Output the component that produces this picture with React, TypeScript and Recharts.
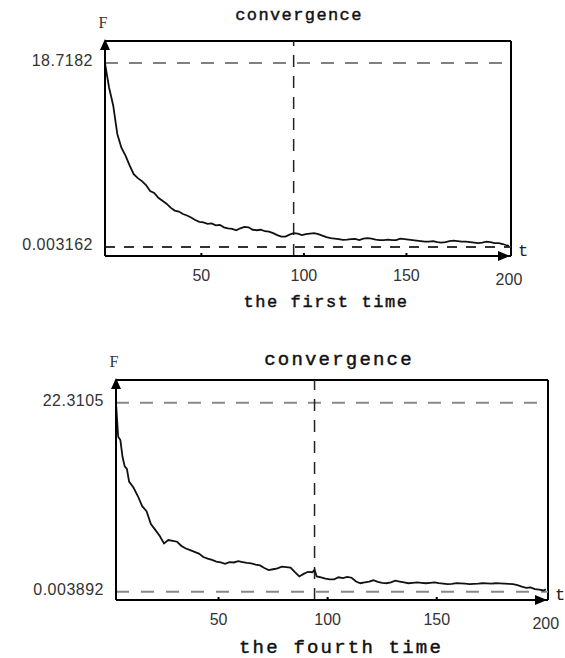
import React from "react";
import { LineChart, Line, XAxis, YAxis, ReferenceLine, ReferenceDot } from "recharts";

// first run: iteration t and fitness F
const tFirst = [3, 5, 7, 9, 11, 13, 15, 17, 19, 21, 23, 25, 27, 29, 31, 33, 35, 37, 39, 41, 43, 45, 47, 49, 51, 53, 55, 57, 59, 61, 63, 65, 67, 69, 71, 73, 75, 77, 79, 81, 83, 85, 87, 89, 91, 93, 95, 97, 99, 101, 103, 105, 107, 109, 111, 113, 115, 117, 119, 121, 123, 125, 127, 129, 131, 133, 135, 137, 139, 141, 143, 145, 147, 149, 151, 153, 155, 157, 159, 161, 163, 165, 167, 169, 171, 173, 175, 177, 179, 181, 183, 185, 187, 189, 191, 193, 195, 197, 199, 200];
const fFirst = [18.7, 16.2, 14.4, 11.5, 10.1, 9.3, 8.3, 7.4, 7.0, 6.7, 6.3, 5.7, 5.5, 5.0, 4.7, 4.4, 4.0, 3.7, 3.6, 3.35, 3.2, 3.0, 2.75, 2.55, 2.5, 2.35, 2.4, 2.2, 2.25, 2.0, 1.9, 1.85, 1.7, 1.9, 2.05, 2.0, 1.75, 1.7, 1.75, 1.6, 1.55, 1.4, 1.2, 1.05, 1.05, 1.25, 1.4, 1.35, 1.2, 1.3, 1.35, 1.4, 1.3, 1.15, 1.0, 0.9, 0.85, 0.8, 0.72, 0.75, 0.8, 0.82, 0.7, 0.85, 0.9, 0.85, 0.75, 0.7, 0.7, 0.75, 0.7, 0.7, 0.85, 0.8, 0.75, 0.7, 0.65, 0.6, 0.55, 0.55, 0.6, 0.5, 0.45, 0.5, 0.6, 0.65, 0.6, 0.55, 0.55, 0.5, 0.45, 0.4, 0.45, 0.55, 0.5, 0.4, 0.4, 0.3, 0.15, 0.1];

// fourth run
const tFourth = [3, 4, 5, 6, 7, 8, 9, 11, 13, 15, 17, 19, 21, 23, 25, 27, 29, 31, 33, 35, 37, 39, 41, 43, 45, 47, 49, 51, 53, 55, 57, 59, 61, 63, 65, 67, 69, 71, 73, 75, 77, 79, 81, 83, 85, 87, 89, 91, 93, 94, 95, 97, 99, 101, 103, 105, 107, 109, 111, 113, 115, 117, 119, 121, 123, 125, 127, 129, 131, 133, 135, 137, 139, 141, 143, 145, 147, 149, 151, 153, 155, 157, 159, 161, 163, 165, 167, 169, 171, 173, 175, 177, 179, 181, 183, 185, 187, 189, 191, 193, 195, 197, 199, 200];
const fFourth = [22.3, 18.3, 17.9, 15.9, 14.8, 14.5, 13.0, 12.3, 11.3, 10.1, 9.5, 8.0, 7.3, 6.6, 5.7, 6.1, 6.0, 5.9, 5.4, 5.1, 4.9, 4.7, 4.5, 4.1, 3.9, 3.75, 3.55, 3.45, 3.3, 3.5, 3.45, 3.6, 3.5, 3.4, 3.35, 3.2, 3.1, 2.8, 2.56, 2.65, 2.75, 2.95, 2.9, 2.85, 2.3, 1.8, 2.1, 2.35, 2.3, 2.6, 1.8, 1.7, 1.55, 1.45, 1.45, 1.7, 1.6, 1.75, 1.65, 1.2, 1.0, 1.1, 1.2, 1.35, 1.15, 1.05, 1.0, 1.1, 1.3, 1.2, 1.1, 1.0, 1.05, 1.1, 1.05, 1.0, 1.05, 1.1, 1.0, 0.95, 0.9, 0.92, 1.0, 0.98, 0.95, 0.9, 0.92, 0.95, 1.0, 0.98, 0.95, 1.0, 0.98, 0.95, 0.92, 0.9, 0.78, 0.6, 0.45, 0.5, 0.3, 0.25, 0.15, 0.3];

const xTicks = [50, 100, 150, 200];
const boundsFirst = [0.003162, 18.7182];
const boundsFourth = [0.003892, 22.3105];

const TICK_FONT = "'Liberation Sans', Arial, sans-serif";
const MONO_FONT = "'Liberation Mono', 'Courier New', monospace";

const XTick = (props: any) => {
  const { x, y, payload } = props;
  const last = payload.value === 200;
  return (
    <g>
      {!last && <line x1={x} x2={x} y1={y - 3} y2={y} stroke="#000" strokeWidth={2} />}
      <text x={x} y={y + (last ? 29 : 25)} textAnchor="middle" fontFamily={TICK_FONT} fontSize={16} fill="#333">
        {payload.value}
      </text>
    </g>
  );
};

const YTick = (props: any) => {
  const { x, y, payload } = props;
  return (
    <text x={x - 12} y={y + 3} textAnchor="end" fontFamily={TICK_FONT} fontSize={16} fill="#333" letterSpacing={0.5}>
      {String(payload.value)}
    </text>
  );
};

const UpArrow = (props: any) => {
  const { cx, cy } = props;
  return (
    <g>
      <path d={`M${cx},${cy - 2} L${cx - 5},${cy + 9} L${cx + 5},${cy + 9} Z`} fill="#000" />
      <text x={cx - 2} y={cy - 13} textAnchor="middle" fontFamily="'Liberation Serif', serif" fontSize={16} fill="#333">F</text>
    </g>
  );
};

const RightArrow = (props: any) => {
  const { cx, cy } = props;
  return (
    <g>
      <path d={`M${cx - 1},${cy} L${cx - 13},${cy - 5} L${cx - 13},${cy + 5} Z`} fill="#000" />
      <text x={cx + 7} y={cy} fontFamily={MONO_FONT} fontSize={17} fill="#222">t</text>
    </g>
  );
};

function Panel(p: any) {
  const data = p.t.map((v: number, i: number) => ({ t: v, F: p.f[i] }));
  return (
    <LineChart width={p.width} height={p.height} data={data} margin={p.margin}>
      <XAxis
        dataKey="t"
        type="number"
        domain={[3, 201]}
        ticks={xTicks}
        interval={0}
        tick={<XTick />}
        tickLine={false}
        tickSize={0}
        tickMargin={0}
        axisLine={{ stroke: "#000", strokeWidth: 2 }}
        height={p.xAxisHeight}
        allowDataOverflow
      />
      <YAxis
        type="number"
        domain={p.yDomain}
        ticks={p.bounds}
        interval={0}
        tick={<YTick />}
        tickLine={false}
        tickSize={0}
        tickMargin={0}
        axisLine={{ stroke: "#000", strokeWidth: 2 }}
        width={p.yAxisWidth}
        allowDataOverflow
      />
      <ReferenceLine y={p.yDomain[1]} stroke="#000" strokeWidth={2} />
      <ReferenceLine x={201} stroke="#000" strokeWidth={2} />
      <ReferenceLine y={p.bounds[1]} stroke={p.hiColor} strokeDasharray="13 11" strokeWidth={2} />
      <ReferenceLine y={p.bounds[0]} stroke={p.loColor} strokeDasharray={p.loDash} strokeWidth={2} />
      <ReferenceLine x={p.markT} stroke="#222" strokeDasharray="12 9" strokeWidth={1.5} />
      <Line dataKey="F" type="linear" stroke="#111" strokeWidth={1.8} dot={false} isAnimationActive={false} />
      <ReferenceDot x={3} y={p.yDomain[1]} r={0} shape={UpArrow} ifOverflow="visible" />
      <ReferenceDot x={201} y={p.yDomain[0]} r={0} shape={RightArrow} ifOverflow="visible" />
    </LineChart>
  );
}

const labelStyle = { stroke: "#111", strokeWidth: 0.45 };

export default function App() {
  return (
    <div style={{ position: "absolute", left: 0, top: 0, width: 565, height: 658, background: "#fff" }}>
      <div style={{ position: "absolute", left: 0, top: 0 }}>
        <Panel
          t={tFirst}
          f={fFirst}
          bounds={boundsFirst}
          yDomain={[-0.92, 20.96]}
          width={565}
          height={300}
          margin={{ top: 41, right: 54, left: 0, bottom: 0 }}
          yAxisWidth={105}
          xAxisHeight={44}
          markT={95}
          hiColor="#808080"
          loColor="#333"
          loDash="10 9"
        />
      </div>
      <div style={{ position: "absolute", left: 0, top: 330 }}>
        <Panel
          t={tFourth}
          f={fFourth}
          bounds={boundsFourth}
          yDomain={[-0.98, 25.0]}
          width={565}
          height={328}
          margin={{ top: 50, right: 17, left: 0, bottom: 0 }}
          yAxisWidth={116}
          xAxisHeight={58}
          markT={94}
          hiColor="#888"
          loColor="#888"
          loDash="13 12"
        />
      </div>
      <svg width={565} height={658} style={{ position: "absolute", left: 0, top: 0, pointerEvents: "none" }}>
        <text x={299} y={20} textAnchor="middle" fontFamily={MONO_FONT} fontSize={17} letterSpacing={1.4} fill="#111" style={labelStyle}>convergence</text>
        <text x={326} y={307} textAnchor="middle" fontFamily={MONO_FONT} fontSize={17} letterSpacing={1.6} fill="#111" style={labelStyle}>the first time</text>
        <text x={339} y={365} textAnchor="middle" fontFamily={MONO_FONT} fontSize={19} letterSpacing={2.2} fill="#111" style={labelStyle}>convergence</text>
        <text x={341} y={653} textAnchor="middle" fontFamily={MONO_FONT} fontSize={19} letterSpacing={2.2} fill="#111" style={labelStyle}>the fourth time</text>
      </svg>
    </div>
  );
}
